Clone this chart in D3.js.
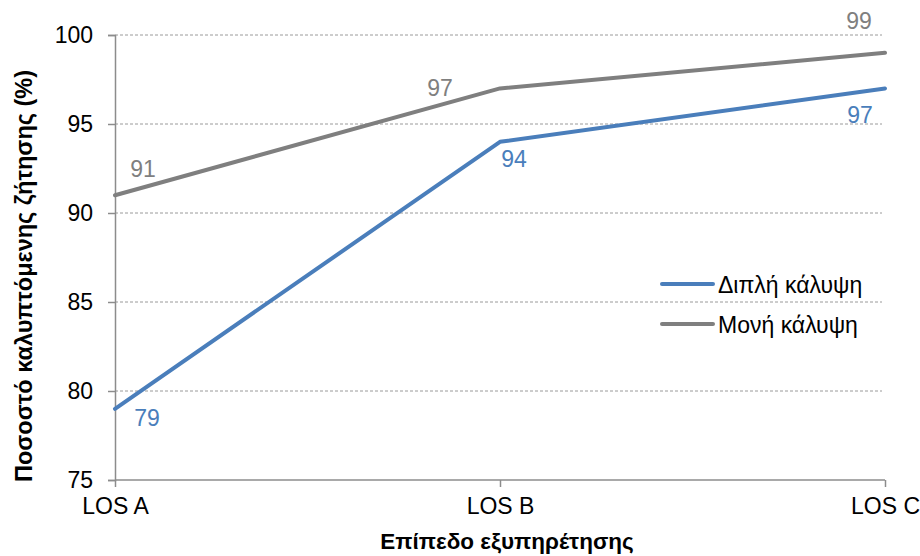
<!DOCTYPE html>
<html>
<head>
<meta charset="utf-8">
<script src="https://cdn.jsdelivr.net/npm/d3@7"></script>
<style>
body { margin: 0; background: #fff; }
text { font-family: "Liberation Sans", Arial, sans-serif; }
</style>
</head>
<body>
<script>
// Data
const categories = ['LOS A', 'LOS B', 'LOS C'];
const doubleCover = [79, 94, 97];
const singleCover = [91, 97, 99];
const yTicks = [75, 80, 85, 90, 95, 100];
const seriesNames = ['Διπλή κάλυψη', 'Μονή κάλυψη'];

const width = 920, height = 556;
const plot = { left: 115, right: 885, top: 35, bottom: 480 };
const colors = ['#4a7ebb', '#7f7f7f'];

let svg = d3.select('body').append('svg')
    .attr('width', width)
    .attr('height', height);

let x = d3.scalePoint().domain(categories).range([plot.left, plot.right]);
let y = d3.scaleLinear().domain([75, 100]).range([plot.bottom, plot.top]);

// Gridlines
svg.append('g')
    .selectAll('line')
    .data(yTicks.filter(d => d > 75))
    .enter().append('line')
    .attr('x1', plot.left)
    .attr('x2', plot.right - 3)
    .attr('y1', d => y(d))
    .attr('y2', d => y(d))
    .attr('stroke', '#9a9a9a')
    .attr('stroke-width', 1)
    .attr('stroke-dasharray', '3,2');

// Y axis
let yAxis = svg.append('g').attr('transform', `translate(${plot.left},0)`)
    .call(d3.axisLeft(y).tickValues(yTicks).tickSize(7).tickPadding(15));
yAxis.select('.domain').attr('stroke', '#8c8c8c').attr('stroke-width', 1.5);
yAxis.selectAll('.tick line').attr('stroke', '#8c8c8c').attr('stroke-width', 1.5);
yAxis.selectAll('.tick text').attr('font-size', 23).attr('fill', '#000')
    .style('font-family', '"Liberation Sans", Arial, sans-serif');

// X axis
let xAxis = svg.append('g').attr('transform', `translate(0,${plot.bottom})`)
    .call(d3.axisBottom(x).tickSize(7).tickPadding(11));
xAxis.select('.domain').attr('stroke', '#8c8c8c').attr('stroke-width', 1.5).attr('d', `M${plot.left},0H${plot.right}`);
xAxis.selectAll('.tick line').attr('stroke', '#8c8c8c').attr('stroke-width', 1.5);
xAxis.selectAll('.tick text').attr('font-size', 23).attr('fill', '#000')
    .style('font-family', '"Liberation Sans", Arial, sans-serif');

// Axis labels
svg.append('text')
    .attr('x', 507)
    .attr('y', 549)
    .attr('text-anchor', 'middle')
    .attr('font-size', 22.5)
    .attr('font-weight', 'bold')
    .text('Επίπεδο εξυπηρέτησης');

svg.append('text')
    .attr('transform', `translate(32,276) rotate(-90)`)
    .attr('text-anchor', 'middle')
    .attr('font-size', 23.5)
    .attr('font-weight', 'bold')
    .text('Ποσοστό καλυπτόμενης ζήτησης (%)');

// Lines
const line = d3.line().x((d, i) => x(categories[i])).y(d => y(d));
[doubleCover, singleCover].forEach((s, k) => {
    svg.append('path')
        .datum(s)
        .attr('d', line)
        .attr('fill', 'none')
        .attr('stroke', colors[k])
        .attr('stroke-width', 4)
        .attr('stroke-linecap', 'round')
        .attr('stroke-linejoin', 'round');
});

// Data labels (offsets relative to point)
const doubleOffsets = [[32, 17], [14, 25], [-25, 35]];
const singleOffsets = [[28, -18], [-60, 8], [-26, -24]];
svg.append('g').selectAll('text')
    .data(doubleCover)
    .enter().append('text')
    .attr('x', (d, i) => x(categories[i]) + doubleOffsets[i][0])
    .attr('y', (d, i) => y(d) + doubleOffsets[i][1])
    .attr('text-anchor', 'middle')
    .attr('font-size', 23)
    .attr('fill', colors[0])
    .text(d => d);
svg.append('g').selectAll('text')
    .data(singleCover)
    .enter().append('text')
    .attr('x', (d, i) => x(categories[i]) + singleOffsets[i][0])
    .attr('y', (d, i) => y(d) + singleOffsets[i][1])
    .attr('text-anchor', 'middle')
    .attr('font-size', 23)
    .attr('fill', colors[1])
    .text(d => d);

// Legend
let legend = svg.append('g').attr('transform', 'translate(662,284)');
seriesNames.forEach((name, k) => {
    let g = legend.append('g').attr('transform', `translate(0,${k * 40})`);
    g.append('line')
        .attr('x1', 0).attr('x2', 51)
        .attr('stroke', colors[k])
        .attr('stroke-width', 4)
        .attr('stroke-linecap', 'round');
    g.append('text')
        .attr('x', 56)
        .attr('y', 9)
        .attr('font-size', 23)
        .attr('fill', '#000')
        .text(name);
});
</script>
</body>
</html>
